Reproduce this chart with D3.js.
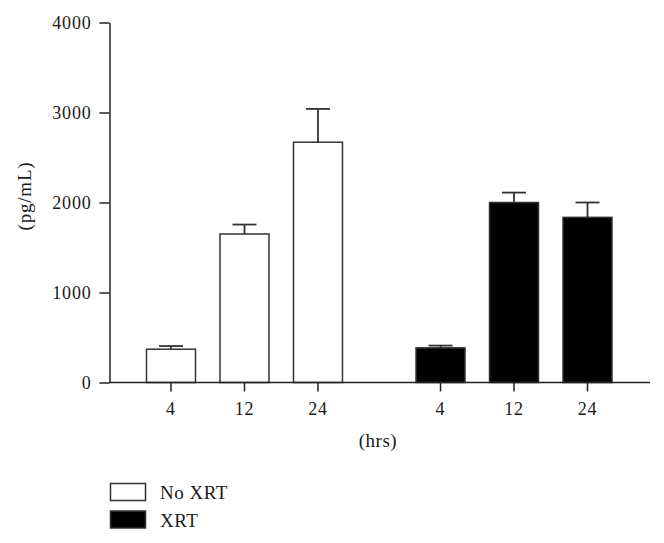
<!DOCTYPE html>
<html>
<head>
<meta charset="utf-8">
<script src="https://cdn.jsdelivr.net/npm/d3@7"></script>
<style>
  body { margin: 0; background: #fff; }
  text { font-family: "Liberation Serif", "Times New Roman", serif; fill: #1a1a1a; }
</style>
</head>
<body>
<div id="chart-area"></div>
<script>
// chart data
var groups = ["No XRT", "XRT"];
var hours = ["4", "12", "24"];
var noXrtMean = [370, 1650, 2670];
var noXrtErr = [35, 105, 370];
var xrtMean = [385, 2000, 1835];
var xrtErr = [25, 110, 165];
var yTicks = [0, 1000, 2000, 3000, 4000];

var fills = { "No XRT": "#ffffff", "XRT": "#000000" };

var W = 664, H = 543;
var svg = d3.select("#chart-area").append("svg")
    .attr("width", W)
    .attr("height", H);

// build rows for the bars
var rows = [];
hours.forEach(function(h, i) {
    rows.push({ group: "No XRT", hrs: h, mean: noXrtMean[i], err: noXrtErr[i] });
    rows.push({ group: "XRT", hrs: h, mean: xrtMean[i], err: xrtErr[i] });
});

// scales
var y = d3.scaleLinear()
    .domain([0, 4000])
    .range([382.5, 22.5]);

var xGroup = d3.scaleBand()
    .domain(groups)
    .range([134.25, 624.25])
    .paddingInner(0.182)
    .paddingOuter(0);

var xHrs = d3.scaleBand()
    .domain(hours)
    .range([0, xGroup.bandwidth()])
    .paddingInner(1 / 3)
    .paddingOuter(1 / 6);

// shared styling for axis text
function styleAxis(g) {
    g.selectAll("path, line").attr("stroke", "#222").attr("stroke-width", 1.5);
    g.selectAll("text")
        .attr("font-size", "18px")
        .attr("letter-spacing", "0.8px")
        .attr("fill", "#1a1a1a")
        .attr("font-family", "Liberation Serif, serif");
}

// y-axis
svg.append("g")
    .attr("transform", "translate(109.5 0)")
    .call(d3.axisLeft(y).tickValues(yTicks).tickFormat(d3.format("d"))
        .tickSize(10).tickSizeOuter(0).tickPadding(8))
    .call(styleAxis);

// y-axis label
svg.append("text")
    .attr("transform", "translate(31 196) rotate(-90)")
    .attr("text-anchor", "middle")
    .attr("font-size", "19px")
    .attr("letter-spacing", "0.8px")
    .text("(pg/mL)");

// bars
var bars = svg.append("g");
bars.selectAll("rect")
    .data(rows).enter()
    .append("rect")
        .attr("x", function(d) { return xGroup(d.group) + xHrs(d.hrs); })
        .attr("y", function(d) { return y(d.mean); })
        .attr("width", xHrs.bandwidth())
        .attr("height", function(d) { return y(0) - y(d.mean); })
        .attr("fill", function(d) { return fills[d.group]; })
        .attr("stroke", "#333")
        .attr("stroke-width", 1.5);

// error bars (upper only)
var capW = 24;
function cx(d) { return xGroup(d.group) + xHrs(d.hrs) + xHrs.bandwidth() / 2; }
var errs = svg.append("g").attr("stroke", "#333").attr("stroke-width", 1.8);
errs.selectAll(".stem")
    .data(rows).enter()
    .append("line")
        .attr("class", "stem")
        .attr("x1", cx)
        .attr("x2", cx)
        .attr("y1", function(d) { return y(d.mean); })
        .attr("y2", function(d) { return y(d.mean + d.err); });
errs.selectAll(".cap")
    .data(rows).enter()
    .append("line")
        .attr("class", "cap")
        .attr("x1", function(d) { return cx(d) - capW / 2; })
        .attr("x2", function(d) { return cx(d) + capW / 2; })
        .attr("y1", function(d) { return y(d.mean + d.err); })
        .attr("y2", function(d) { return y(d.mean + d.err); });

// x-axis baseline
svg.append("line")
    .attr("x1", 109)
    .attr("x2", 650)
    .attr("y1", y(0))
    .attr("y2", y(0))
    .attr("stroke", "#222")
    .attr("stroke-width", 1.5);

// x-axis ticks, one set per group
groups.forEach(function(gname) {
    svg.append("g")
        .attr("transform", "translate(" + xGroup(gname) + " " + y(0) + ")")
        .call(d3.axisBottom(xHrs).tickSize(9).tickPadding(11))
        .call(function(g) {
            g.select(".domain").remove();
            styleAxis(g);
        });
});

// x-axis label
svg.append("text")
    .attr("x", 378)
    .attr("y", 447)
    .attr("text-anchor", "middle")
    .attr("font-size", "19px")
    .attr("letter-spacing", "0.5px")
    .text("(hrs)");

// legend
var legend = svg.append("g").attr("transform", "translate(110 483)");
groups.forEach(function(gname, i) {
    legend.append("rect")
        .attr("x", 0.5)
        .attr("y", i * 27.5 + 0.5)
        .attr("width", 35)
        .attr("height", 17)
        .attr("fill", fills[gname])
        .attr("stroke", "#333")
        .attr("stroke-width", 1.5);
    legend.append("text")
        .attr("x", 50)
        .attr("y", i * 27.5 + 16)
        .attr("font-size", "19px")
        .attr("letter-spacing", "0.5px")
        .text(gname);
});
</script>
</body>
</html>
